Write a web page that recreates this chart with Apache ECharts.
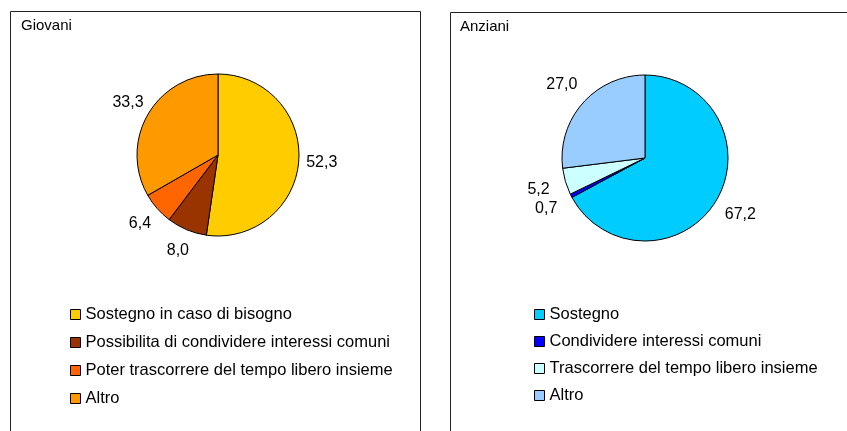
<!DOCTYPE html>
<html>
<head>
<meta charset="utf-8">
<script src="https://cdn.jsdelivr.net/npm/echarts@6/dist/echarts.min.js"></script>
<style>
  html, body { margin: 0; padding: 0; background: #fff; }
  .wrap { width: 847px; height: 431px; position: relative; overflow: hidden; }
  #giovaniChart { position: absolute; left: 0; top: 0; width: 430px; height: 431px; }
  #anzianiChart { position: absolute; left: 430px; top: 0; width: 417px; height: 431px; }
</style>
</head>
<body>
<div class="wrap">
  <div id="giovaniChart"></div>
  <div id="anzianiChart"></div>
</div>
<script>
// dati
const giovaniNames = [
  'Sostegno in caso di bisogno',
  'Possibilita di condividere interessi comuni',
  'Poter trascorrere del tempo libero insieme',
  'Altro'
];
const giovaniValues = [52.3, 8.0, 6.4, 33.3];

const anzianiNames = [
  'Sostegno',
  'Condividere interessi comuni',
  'Trascorrere del tempo libero insieme',
  'Altro'
];
const anzianiValues = [67.2, 0.7, 5.2, 27.0];

// colori
const giovaniColors = ['#FFCC00', '#993300', '#FF6600', '#FF9900'];
const anzianiColors = ['#00CCFF', '#0000FF', '#CCFFFF', '#99CCFF'];

const FONT = '"Liberation Sans", Arial, sans-serif';

function fmt(v) {
  return v.toFixed(1).replace('.', ',');
}

function pieOption(title, names, values, colors, cfg) {
  const data = names.map((n, i) => ({ name: n, value: values[i] }));
  return {
    animation: false,
    color: colors,
    textStyle: { fontFamily: FONT },
    title: {
      text: title,
      left: cfg.titleLeft,
      top: cfg.titleTop,
      padding: 0,
      textStyle: { fontFamily: FONT, fontSize: 15, fontWeight: 'normal', color: '#000' }
    },
    legend: {
      orient: 'vertical',
      left: cfg.legendLeft,
      top: cfg.legendTop,
      padding: 0,
      itemWidth: 10,
      itemHeight: 10,
      itemGap: cfg.legendGap,
      icon: 'rect',
      selectedMode: false,
      itemStyle: { borderColor: '#000', borderWidth: 1 },
      textStyle: { fontFamily: FONT, fontSize: 16.5, color: '#000', lineHeight: 17, padding: [0, 0, 0, 0] },
      data: names
    },
    graphic: [{
      type: 'rect',
      shape: cfg.box,
      style: { fill: 'none', stroke: '#222', lineWidth: 1 },
      silent: true
    }],
    series: [
      {
        // torta
        type: 'pie',
        center: cfg.center,
        radius: cfg.radius,
        startAngle: 90,
        clockwise: true,
        silent: true,
        label: { show: false },
        labelLine: { show: false },
        itemStyle: { borderColor: '#000', borderWidth: 1 },
        data: data
      },
      {
        // anello trasparente che porta le etichette
        type: 'pie',
        center: cfg.center,
        radius: cfg.labelRing,
        startAngle: 90,
        clockwise: true,
        silent: true,
        itemStyle: { color: 'rgba(0,0,0,0)', borderWidth: 0 },
        label: {
          show: true,
          position: 'inside',
          color: '#000',
          fontFamily: FONT,
          fontSize: 16,
          formatter: p => fmt(p.value)
        },
        labelLine: { show: false },
        data: data
      }
    ]
  };
}

let giovaniChart = echarts.init(document.getElementById('giovaniChart'));
let anzianiChart = echarts.init(document.getElementById('anzianiChart'));

giovaniChart.setOption(pieOption('Giovani', giovaniNames, giovaniValues, giovaniColors, {
  titleLeft: 21, titleTop: 18,
  legendLeft: 70, legendTop: 306, legendGap: 11,
  center: [218, 155], radius: [0, 81], labelRing: [91, 111],
  box: { x: 10.5, y: 11.5, width: 410, height: 440 }
}));

anzianiChart.setOption(pieOption('Anziani', anzianiNames, anzianiValues, anzianiColors, {
  titleLeft: 30, titleTop: 19,
  legendLeft: 104, legendTop: 306, legendGap: 10,
  center: [215, 158], radius: [0, 83], labelRing: [98, 118],
  box: { x: 20.5, y: 12.5, width: 420, height: 440 }
}));
</script>
</body>
</html>
